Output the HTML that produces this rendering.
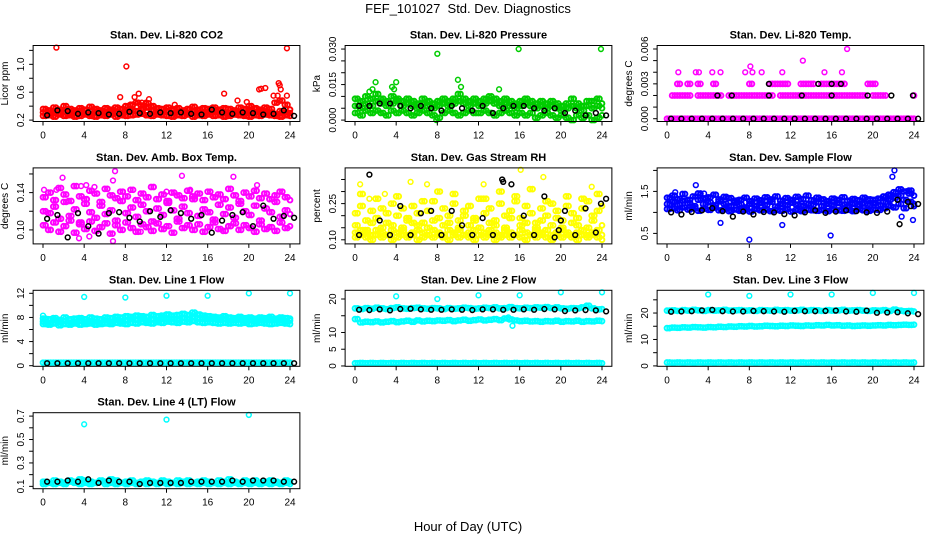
<!DOCTYPE html>
<html><head><meta charset="utf-8"><style>
html,body{margin:0;padding:0;background:#fff;}
svg{display:block;font-family:"Liberation Sans",Arial,sans-serif;}
</style></head><body>
<svg id="chart" width="936" height="540" viewBox="0 0 936 540" xmlns="http://www.w3.org/2000/svg">
<rect width="936" height="540" fill="#fff"/>
<text x="468" y="13" text-anchor="middle" font-size="13" xml:space="preserve">FEF_101027  Std. Dev. Diagnostics</text>
<text x="468" y="531" text-anchor="middle" font-size="13">Hour of Day (UTC)</text>
</svg>
<script>
const HALF = [0,0.5,1,1.5,2,2.5,3,3.5,4,4.5,5,5.5,6,6.5,7,7.5,8,8.5,9,9.5,10,10.5,11,11.5,12,12.5,13,13.5,14,14.5,15,15.5,16,16.5,17,17.5,18,18.5,19,19.5,20,20.5,21,21.5,22,22.5,23,23.5,24];
const HOURS = [0,1,2,3,4,5,6,7,8,9,10,11,12,13,14,15,16,17,18,19,20,21,22,23,24];
const xTicks = [0,4,8,12,16,20,24];

// Panel 1: CO2
const co2A=[0.31,0.30,0.33,0.29,0.32,0.30,0.31,0.33,0.30,0.29,0.32,0.31,0.30,0.33,0.31,0.29,0.32,0.35,0.33,0.36,0.38,0.34,0.32,0.31,0.33,0.30,0.32,0.31,0.29,0.33,0.31,0.30,0.32,0.34,0.31,0.30,0.29,0.32,0.31,0.30,0.33,0.31,0.32,0.30,0.31,0.29,0.33,0.31,0.30];
const co2B=[0.26,0.27,0.25,0.28,0.26,0.27,0.25,0.26,0.28,0.26,0.25,0.27,0.26,0.28,0.25,0.27,0.26,0.27,0.28,0.29,0.27,0.26,0.28,0.27,0.26,0.25,0.27,0.26,0.28,0.25,0.27,0.26,0.28,0.26,0.27,0.25,0.26,0.28,0.27,0.26,0.25,0.27,0.26,0.28,0.27,0.26,0.25,0.27,0.26];
const co2C=[0.36,0.34,0.38,0.35,0.40,0.36,0.34,0.37,0.35,0.39,0.36,0.34,0.37,0.35,0.38,0.36,0.40,0.42,0.45,0.41,0.44,0.40,0.37,0.36,0.38,0.35,0.37,0.34,0.36,0.39,0.35,0.37,0.36,0.38,0.35,0.37,0.36,0.34,0.38,0.36,0.40,0.37,0.35,0.38,0.36,0.45,0.48,0.42,0.35];
const co2OutX=[1.3,8.1,23.7,7.5,9.3,8.9,17.6,21.2,21.6,21.0,22.9,23.0,23.1,22.8,23.7,10.3,10.0,9.6,19.8,18.9,12.8,22.4];
const co2OutY=[1.24,0.97,1.23,0.53,0.58,0.53,0.58,0.65,0.66,0.64,0.73,0.70,0.64,0.55,0.55,0.50,0.45,0.45,0.46,0.48,0.42,0.55];
const co2Black=[0.27,0.34,0.33,0.29,0.31,0.30,0.28,0.29,0.32,0.30,0.29,0.31,0.30,0.31,0.29,0.28,0.35,0.31,0.29,0.31,0.30,0.28,0.29,0.34,0.26];

// Panel 2: Pressure
const prA=[.006,.005,.007,.006,.008,.007,.006,.007,.008,.006,.007,.006,.005,.007,.006,.005,.006,.007,.006,.007,.008,.007,.006,.007,.006,.007,.008,.007,.006,.007,.006,.005,.006,.007,.006,.005,.006,.005,.006,.005,.004,.005,.006,.005,.004,.006,.005,.006,.005];
const prB=[.003,.002,.004,.003,.004,.003,.002,.004,.003,.004,.003,.002,.003,.004,.003,.002,.001,.003,.004,.003,.002,.003,.004,.003,.003,.004,.003,.002,.003,.004,.003,.002,.003,.002,.003,.001,.002,.003,.002,.001,.002,.001,.000,.002,.001,.002,.000,.001,.002];
const prC=[.009,.008,.010,.009,.011,.009,.008,.010,.009,.008,.009,.008,.007,.009,.008,.007,.008,.009,.008,.009,.011,.009,.008,.009,.008,.009,.010,.009,.008,.009,.008,.007,.008,.009,.008,.007,.008,.007,.008,.007,.006,.007,.009,.007,.006,.008,.008,.009,.007];
const prOutX=[8.0,15.9,23.9,1.4,2.0,4.0,3.8,3.6,10.0,10.3,14.0,7.9,1.7];
const prOutY=[.028,.030,.030,.012,.016,.016,.013,.014,.017,.014,.013,.000,.013];
const prBlack=[.006,.006,.007,.007,.006,.005,.006,.005,.004,.006,.005,.004,.006,.003,.005,.006,.006,.005,.004,.005,.003,.004,.002,.003,.002];

// Panel 3: Li-820 Temp
const tpA=[0,0,0,0,0,0,0,0,0,0,0,0,0,0,0,0,0,0,0,0,0,0,0,0,0,0,0,0,0,0,0,0,0,0,0,0,0,0,0,0,0,0,0,0,0,0,0,0,0];
const tpB=[null,.002,.002,.002,.002,null,.002,.002,.002,.002,.002,null,.002,.002,.002,.002,.002,.002,.002,.002,.002,null,.002,.002,.002,.002,.002,.002,.002,.002,.002,.002,.002,.002,.002,.002,.002,.002,.002,null,.002,.002,.002,null,null,null,null,null,.002];
const tpC=[null,null,.003,null,.003,null,.003,null,null,.003,null,null,null,null,null,null,.003,null,null,null,.003,.003,.003,.003,null,null,.003,.003,.003,null,.003,.003,.003,.003,.003,null,null,null,null,.003,.003,null,null,null,null,null,null,null,null];
const tpOutX=[1.1,3.1,5.2,7.6,9.2,8.3,15.3,17.0,4.4,2.8,11.2,13.2,8.1,17.5];
const tpOutY=[.004,.004,.004,.004,.004,.004,.004,.004,.004,.004,.004,.005,.0045,.006];
const tpBlack=[0,0,0,0,0,0,0,0,0,0,0,0,0,0,0,0,0,0,0,0,0,0,0,0,0];
const tpBlackX=[4.9,6.3,9.9,13.1,16.0,19.5,21.8,23.9,9.9,14.7,16.0,16.9];
const tpBlackY=[.002,.002,.002,.002,.002,.002,.002,.002,.003,.003,.003,.003];

// Panel 4: Amb Box Temp
const abA=[.120,.118,.125,.112,.130,.115,.122,.108,.128,.119,.113,.126,.117,.121,.110,.131,.118,.124,.114,.127,.120,.109,.123,.116,.129,.121,.112,.125,.118,.133,.115,.122,.119,.111,.127,.117,.124,.113,.128,.120,.116,.126,.110,.123,.119,.130,.114,.121,.117];
const abB=[.105,.100,.108,.098,.104,.110,.097,.106,.101,.109,.099,.103,.107,.096,.105,.100,.108,.102,.098,.106,.103,.099,.107,.101,.104,.097,.109,.102,.105,.100,.106,.098,.103,.108,.101,.099,.104,.107,.100,.105,.102,.098,.106,.101,.103,.099,.108,.102,.104];
const abC=[.135,.140,.132,.145,.138,.131,.147,.136,.133,.142,.139,.130,.144,.137,.134,.141,.136,.143,.132,.139,.135,.146,.133,.138,.131,.140,.137,.134,.142,.136,.139,.132,.141,.135,.138,.133,.144,.137,.131,.140,.136,.142,.134,.139,.133,.137,.141,.135,.132];
const abOutX=[1.9,7.0,6.8,13.5,18.5,20.8,5.0,3.7,4.2,14.3,12.0,4.5,3.5,6.8,9.5,1.3,0.1];
const abOutY=[.156,.163,.153,.158,.157,.148,.146,.147,.148,.143,.141,.093,.091,.088,.098,.143,.143];
const abBlack=[.112,.116,.092,.118,.104,.096,.118,.119,.113,.109,.120,.114,.121,.118,.112,.116,.097,.110,.116,.119,.104,.126,.112,.115,.113];

// Panel 5: Gas Stream RH
const rhA=[.11,.12,.11,.10,.12,.11,.12,.10,.11,.12,.11,.12,.10,.11,.12,.11,.12,.11,.10,.12,.11,.12,.11,.10,.12,.11,.12,.10,.11,.12,.11,.12,.11,.10,.12,.11,.12,.11,.10,.12,.11,.12,.11,.10,.12,.11,.12,.11,.10];
const rhB=[.13,.14,.13,.12,.14,.13,.12,.14,.13,.14,.12,.13,.14,.13,.12,.14,.13,.12,.14,.13,.14,.12,.13,.14,.12,.13,.14,.13,.12,.14,.13,.12,.14,.13,.12,.14,.13,.14,.12,.13,.14,.13,.12,.13,.14,.12,.13,.14,.12];
const rhC=[.21,.24,.18,.22,.19,.23,.17,.25,.20,.23,.18,.24,.21,.17,.22,.26,.19,.23,.20,.25,.18,.22,.24,.19,.27,.21,.23,.18,.25,.20,.22,.26,.19,.24,.21,.17,.23,.20,.25,.22,.18,.24,.21,.19,.23,.26,.20,.22,.24];
const rhD=[.16,.29,.14,.17,.27,.15,.21,.16,.28,.15,.19,.17,.16,.26,.15,.18,.30,.16,.17,.29,.15,.20,.16,.18,.15,.27,.17,.16,.30,.15,.19,.28,.16,.17,.31,.15,.18,.26,.16,.19,.15,.28,.17,.16,.27,.15,.18,.29,.16];
const rhOutX=[0.5,5.4,7.0,12.5,16.1,18.3,23.0,2.9,1.4];
const rhOutY=[.33,.34,.33,.33,.39,.36,.32,.29,.27];
const rhBlack=[.12,.37,.18,.12,.24,.12,.21,.22,.12,.22,.16,.12,.19,.12,.34,.12,.20,.12,.28,.11,.22,.12,.23,.13,.27];
const rhBlackX=[14.3,15.2,20.0,19.8,23.9];
const rhBlackY=[.35,.33,.18,.14,.25];

// Panel 6: Sample Flow
const sfA=[1.20,1.25,1.18,1.28,1.22,1.15,1.30,1.20,1.24,1.17,1.26,1.21,1.15,1.23,1.19,1.12,1.20,1.16,1.22,1.18,1.25,1.14,1.20,1.17,1.23,1.19,1.16,1.21,1.18,1.24,1.15,1.20,1.17,1.22,1.19,1.14,1.20,1.16,1.21,1.18,1.22,1.17,1.25,1.30,1.35,1.40,1.30,1.45,1.20];
const sfB=[1.08,1.10,1.05,1.12,1.07,1.10,1.04,1.09,1.06,1.11,1.05,1.08,1.03,1.07,1.04,1.06,1.02,1.08,1.05,1.07,1.03,1.06,1.04,1.08,1.02,1.06,1.03,1.07,1.05,1.04,1.06,1.03,1.07,1.05,1.04,1.06,1.03,1.08,1.05,1.04,1.07,1.06,1.10,1.15,1.12,1.20,1.10,1.25,1.15];
const sfC=[1.35,1.40,1.32,1.44,1.30,1.38,1.45,1.33,1.36,1.42,1.31,1.37,1.34,1.28,1.30,1.35,1.27,1.33,1.29,1.36,1.31,1.38,1.28,1.34,1.30,1.37,1.32,1.40,1.29,1.35,1.31,1.27,1.33,1.30,1.36,1.28,1.32,1.29,1.35,1.31,1.30,1.33,1.38,1.42,1.48,1.55,1.50,1.52,1.40];
const sfOutX=[2.8,21.9,22.1,8.0,15.9,11.2,5.2,23.9,22.8,3.6,0.8];
const sfOutY=[1.65,1.85,2.00,0.35,0.45,0.70,0.75,0.82,0.90,1.45,1.48];
const sfBlack=[1.00,0.95,1.01,1.05,1.10,1.03,0.90,1.02,0.95,1.01,1.00,0.96,0.93,1.00,1.05,0.99,1.02,1.05,1.03,1.00,0.99,1.02,1.30,1.25,1.20];
const sfBlackX=[22.6,23.7];
const sfBlackY=[0.72,1.15];

// Panel 7: Line 1 Flow
const l1A=[7.3,7.1,7.5,7.2,7.4,7.0,7.3,7.5,7.2,7.4,7.3,7.1,7.5,7.3,7.6,7.4,7.5,7.7,7.6,7.8,7.5,7.7,7.6,7.9,7.7,7.8,7.6,7.9,7.7,8.0,7.8,7.9,7.7,7.8,7.6,7.7,7.5,7.6,7.7,7.5,7.6,7.4,7.6,7.5,7.7,7.5,7.6,7.4,7.5];
const l1B=[6.9,6.8,7.0,6.7,6.9,6.8,7.0,6.8,6.9,7.0,6.8,6.9,7.0,6.9,7.1,7.0,6.9,7.1,7.0,7.2,7.1,7.0,7.2,7.1,7.3,7.2,7.1,7.3,7.2,7.4,7.2,7.1,7.2,7.1,7.0,7.1,7.0,7.1,7.0,7.1,6.9,7.0,7.1,7.0,6.9,7.0,7.1,7.0,6.9];
const l1C=[7.8,7.7,7.9,7.6,8.0,7.7,7.8,7.9,7.7,8.0,7.8,7.7,8.0,7.9,8.1,8.0,8.2,8.1,8.3,8.2,8.1,8.4,8.2,8.3,8.5,8.3,8.4,8.6,8.4,8.8,8.5,8.3,8.2,8.1,8.0,8.2,8.0,7.9,8.1,7.9,8.0,7.8,8.0,7.9,8.1,7.8,8.0,7.9,7.8];
const l1D=[0.5,0.5,0.5,0.5,0.5,0.5,0.5,0.5,0.5,0.5,0.5,0.5,0.5,0.5,0.5,0.5,0.5,0.5,0.5,0.5,0.5,0.5,0.5,0.5,0.5,0.5,0.5,0.5,0.5,0.5,0.5,0.5,0.5,0.5,0.5,0.5,0.5,0.5,0.5,0.5,0.5,0.5,0.5,0.5,0.5,0.5,0.5,0.5,0.5];
const l1OutX=[4,8,12,16,20,24,0];
const l1OutY=[11.4,11.3,11.6,11.6,12.0,12.0,8.3];
const l1Black=[0.4,0.4,0.4,0.4,0.4,0.4,0.4,0.4,0.4,0.4,0.4,0.4,0.4,0.4,0.4,0.4,0.4,0.4,0.4,0.4,0.4,0.4,0.4,0.4,0.4];

// Panel 8: Line 2 Flow
const l2A=[14.0,13.0,13.2,13.1,13.3,13.0,13.2,13.4,13.1,13.3,13.5,13.2,13.6,13.3,13.5,13.4,13.6,13.5,13.7,13.4,13.6,13.8,13.5,13.7,13.9,13.6,13.8,14.0,13.7,14.2,13.9,13.6,13.4,13.5,13.3,13.4,13.2,13.4,13.3,13.5,13.2,13.4,13.3,13.5,13.2,13.4,13.3,13.5,13.4];
const l2B=[17.2,17.0,17.3,17.1,17.4,17.2,17.0,17.3,17.5,17.2,17.1,17.3,17.4,17.2,17.1,17.3,17.2,17.0,17.3,17.1,17.2,17.4,17.3,17.1,17.2,17.4,17.3,17.5,17.2,17.3,17.6,17.3,17.2,17.4,17.3,17.5,17.4,17.6,17.3,17.5,17.2,17.1,17.3,17.2,17.5,18.0,17.2,16.9,17.0];
const l2C=[0.8,0.9,0.8,0.9,0.8,0.9,0.8,0.9,0.8,0.9,0.8,0.9,0.8,0.9,0.8,0.9,0.8,0.9,0.8,0.9,0.8,0.9,0.8,0.9,0.8,0.9,0.8,0.9,0.8,0.9,0.8,0.9,0.8,0.9,0.8,0.9,0.8,0.9,0.8,0.9,0.8,0.9,0.8,0.9,0.8,0.9,0.8,0.9,0.8];
const l2OutX=[4,8,12,16,20,24,15.3,14.9];
const l2OutY=[20.8,20.0,21.1,21.1,22.0,22.0,12.0,14.5];
const l2Black=[16.8,16.7,16.9,16.6,17.0,17.1,16.9,16.8,16.8,16.9,16.8,16.7,16.9,16.9,16.8,16.8,16.9,16.8,17.0,16.9,16.4,16.6,16.7,16.6,16.3];

// Panel 9: Line 3 Flow
const l3A=[20.9,21.0,20.8,21.1,20.9,21.2,21.0,20.8,21.1,20.9,21.0,21.2,20.9,21.0,21.1,20.9,21.0,20.8,21.1,21.0,20.9,21.2,21.0,21.1,20.9,21.0,21.2,20.9,21.1,21.0,20.8,21.1,20.9,21.0,21.2,20.9,21.0,21.1,20.9,20.8,21.0,20.9,21.1,20.8,21.3,20.9,20.7,20.8,20.6];
const l3B=[14.3,14.5,14.4,14.6,14.5,14.7,14.6,14.5,14.7,14.6,14.8,14.7,14.9,14.8,15.0,14.9,15.1,14.9,15.0,15.2,15.1,15.0,15.2,15.1,15.3,15.2,15.1,15.3,15.2,15.4,15.3,15.5,15.3,15.4,15.2,15.3,15.1,15.2,15.3,15.2,15.3,15.4,15.3,15.5,15.4,15.5,15.6,15.5,15.6];
const l3C=[1.3,1.2,1.3,1.2,1.3,1.2,1.3,1.2,1.3,1.2,1.3,1.2,1.3,1.2,1.3,1.2,1.3,1.2,1.3,1.2,1.3,1.2,1.3,1.2,1.3,1.2,1.3,1.2,1.3,1.2,1.3,1.2,1.3,1.2,1.3,1.2,1.3,1.2,1.3,1.2,1.3,1.2,1.3,1.2,1.3,1.2,1.3,1.2,1.3];
const l3OutX=[4,8,12,16,20,24];
const l3OutY=[27.0,26.5,27.0,27.0,27.6,27.6];
const l3Black=[20.5,20.6,20.7,21.0,21.2,20.7,20.6,20.6,20.8,20.7,20.6,20.5,20.8,20.7,20.7,20.8,20.9,20.6,20.5,20.9,20.1,20.2,20.3,19.9,19.6];

// Panel 10: Line 4 (LT) Flow
const l4A=[.14,.13,.15,.14,.13,.15,.14,.16,.15,.14,.13,.15,.14,.16,.15,.13,.14,.15,.13,.14,.15,.14,.13,.15,.14,.13,.15,.14,.15,.13,.14,.15,.14,.13,.15,.14,.16,.14,.13,.15,.14,.15,.13,.14,.15,.14,.13,.15,.14];
const l4B=[.12,.13,.12,.13,.12,.14,.13,.12,.13,.12,.13,.14,.12,.13,.12,.13,.12,.13,.12,.13,.12,.13,.12,.13,.12,.13,.12,.13,.12,.13,.12,.13,.12,.13,.12,.13,.12,.13,.12,.13,.12,.13,.12,.13,.12,.13,.12,.13,.12];
const l4OutX=[4,12,20];
const l4OutY=[.63,.67,.71];
const l4Black=[.14,.14,.15,.14,.16,.13,.15,.14,.14,.12,.13,.13,.13,.13,.14,.14,.14,.14,.15,.14,.15,.15,.15,.14,.14];

// Y tick values and labels
const yt1=[0.2,0.4,0.6,0.8,1.0,1.2], yl1=["0.2","","0.6","","1.0",""];
const yt2=[0,.005,.01,.015,.02,.025,.03], yl2=["0.000","","","0.015","","","0.030"];
const yt3=[0,.001,.002,.003,.004,.005,.006], yl3=["0.000","","","0.003","","","0.006"];
const yt4=[.10,.12,.14,.16], yl4=["0.10","","0.14",""];
const yt5=[.10,.15,.20,.25,.30,.35], yl5=["0.10","","","0.25","",""];
const yt6=[.5,1,1.5,2], yl6=["0.5","","1.5",""];
const yt7=[0,2,4,6,8,10,12], yl7=["0","","4","","8","","12"];
const yt8=[0,5,10,15,20], yl8=["0","5","10","","20"];
const yt9=[0,5,10,15,20,25], yl9=["0","","10","","20",""];
const yt10=[.1,.2,.3,.4,.5,.6,.7], yl10=["0.1","","0.3","","0.5","","0.7"];

const panels=[
 {name:'co2',title:'Stan. Dev. Li-820 CO2',yt:'Licor ppm',col:0,row:0,ylim:[0.18,1.27],c:'#ff0000',bands:[co2B,co2A,co2C],ox:co2OutX,oy:co2OutY,blk:co2Black,bx:[],by:[],ticks:yt1,labels:yl1},
 {name:'pressure',title:'Stan. Dev. Li-820 Pressure',yt:'kPa',col:1,row:0,ylim:[-0.0006,0.0315],c:'#00cd00',bands:[prB,prA,prC],ox:prOutX,oy:prOutY,blk:prBlack,bx:[],by:[],ticks:yt2,labels:yl2},
 {name:'li820-temp',title:'Stan. Dev. Li-820 Temp.',yt:'degrees C',col:2,row:0,ylim:[-0.00024,0.0063],c:'#ff00ff',bands:[tpA,tpB,tpC],ox:tpOutX,oy:tpOutY,blk:tpBlack,bx:tpBlackX,by:tpBlackY,ticks:yt3,labels:yl3},
 {name:'amb-box-temp',title:'Stan. Dev. Amb. Box Temp.',yt:'degrees C',col:0,row:1,ylim:[0.085,0.1665],c:'#ff00ff',bands:[abB,abA,abC],ox:abOutX,oy:abOutY,blk:abBlack,bx:[],by:[],ticks:yt4,labels:yl4},
 {name:'gas-stream-rh',title:'Stan. Dev. Gas Stream RH',yt:'percent',col:1,row:1,ylim:[0.083,0.398],c:'#ffff00',bands:[rhA,rhB,rhC,rhD],ox:rhOutX,oy:rhOutY,blk:rhBlack,bx:rhBlackX,by:rhBlackY,ticks:yt5,labels:yl5},
 {name:'sample-flow',title:'Stan. Dev. Sample Flow',yt:'ml/min',col:2,row:1,ylim:[0.25,2.06],c:'#0000ff',bands:[sfB,sfA,sfC],ox:sfOutX,oy:sfOutY,blk:sfBlack,bx:sfBlackX,by:sfBlackY,ticks:yt6,labels:yl6},
 {name:'line1-flow',title:'Stan. Dev. Line 1 Flow',yt:'ml/min',col:0,row:2,ylim:[-0.1,12.5],c:'#00ffff',bands:[l1B,l1A,l1C,l1D],ox:l1OutX,oy:l1OutY,blk:l1Black,bx:[],by:[],ticks:yt7,labels:yl7},
 {name:'line2-flow',title:'Stan. Dev. Line 2 Flow',yt:'ml/min',col:1,row:2,ylim:[-0.1,22.6],c:'#00ffff',bands:[l2A,l2B,l2C],ox:l2OutX,oy:l2OutY,blk:l2Black,bx:[],by:[],ticks:yt8,labels:yl8},
 {name:'line3-flow',title:'Stan. Dev. Line 3 Flow',yt:'ml/min',col:2,row:2,ylim:[-0.15,28.6],c:'#00ffff',bands:[l3A,l3B,l3C],ox:l3OutX,oy:l3OutY,blk:l3Black,bx:[],by:[],ticks:yt9,labels:yl9},
 {name:'line4-flow',title:'Stan. Dev. Line 4 (LT) Flow',yt:'ml/min',col:0,row:3,ylim:[0.08,0.729],c:'#00ffff',bands:[l4A,l4B],ox:l4OutX,oy:l4OutY,blk:l4Black,bx:[],by:[],ticks:yt10,labels:yl10}
];

const NS='http://www.w3.org/2000/svg';
const svg=document.getElementById('chart');
function mk(tag,attrs,parent){const e=document.createElementNS(NS,tag);for(const k in attrs)e.setAttribute(k,attrs[k]);(parent||svg).appendChild(e);return e;}

panels.forEach(p=>{
  const x0=43+p.col*312, pxh=247/24;
  const left=x0-0.96*pxh, right=x0+24.96*pxh;
  const top=45.5+p.row*122.4, bottom=top+76;
  const xs=h=>x0+h*pxh;
  const ys=v=>bottom-(v-p.ylim[0])/(p.ylim[1]-p.ylim[0])*76;
  const g=mk('g',{});
  
  
  const t=mk('text',{x:(left+right)/2,y:top-7,'text-anchor':'middle','font-size':11,'font-weight':'bold'},g);
  t.textContent=p.title;
  
  
  const yt=mk('text',{x:left-25,y:(top+bottom)/2,'text-anchor':'middle','font-size':10,transform:`rotate(-90 ${left-25} ${(top+bottom)/2})`},g);
  yt.textContent=p.yt;
  
  
  const pts=mk('g',{fill:'none','stroke-width':1.5},g);
  
  
  p.bands.forEach(arr=>arr.forEach((v,i)=>{
    if(v===null)return;
    [0,0.25].forEach(off=>{
      if(HALF[i]+off>24)return;
      const c=mk('circle',{cx:xs(HALF[i]+off),cy:ys(v),r:2.4,stroke:p.c,'stroke-width':1.9},pts);
      
      
    });
  }));
  p.ox.forEach((h,i)=>{
    const c=mk('circle',{cx:xs(h),cy:ys(p.oy[i]),r:2.4,stroke:p.c},pts);
    
    
  });
  p.blk.forEach((v,i)=>{
    const c=mk('circle',{cx:xs(HOURS[i]+0.4),cy:ys(v),r:2.4,stroke:'#000'},pts);
    
    
  });
  p.bx.forEach((h,i)=>{
    const c=mk('circle',{cx:xs(h),cy:ys(p.by[i]),r:2.4,stroke:'#000'},pts);
    
    
  });
  const box=mk('rect',{x:left,y:top,width:right-left,height:76,fill:'none',stroke:'#000','stroke-width':1},g);
  
  
  xTicks.forEach(h=>{
    mk('line',{x1:xs(h),x2:xs(h),y1:bottom,y2:bottom+4,stroke:'#000'},g);
    const l=mk('text',{x:xs(h),y:bottom+17,'text-anchor':'middle','font-size':10},g);
    l.textContent=h;
    
    
  });
  p.ticks.forEach((v,i)=>{
    mk('line',{x1:left-4,x2:left,y1:ys(v),y2:ys(v),stroke:'#000'},g);
    if(p.labels[i]){
      const lx=left-9;
      const l=mk('text',{x:lx,y:ys(v),'text-anchor':'middle','font-size':10,transform:`rotate(-90 ${lx} ${ys(v)})`},g);
      l.textContent=p.labels[i];
      
      
    }
  });
});
</script>
</body></html>
